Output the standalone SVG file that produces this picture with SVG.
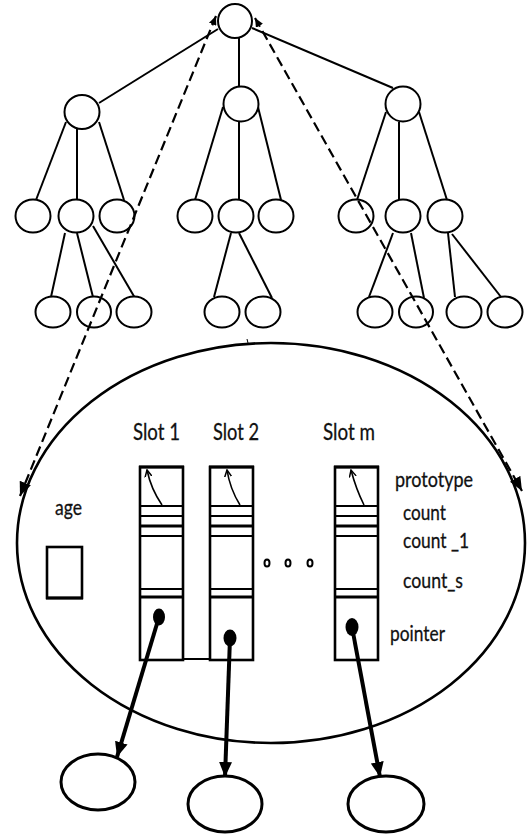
<svg xmlns="http://www.w3.org/2000/svg" width="529" height="834" viewBox="0 0 529 834">
  <style>
    .node { fill: #fff; stroke: #000; stroke-width: 2; }
    .edge { stroke: #000; stroke-width: 2; fill: none; }
    .dash { stroke: #000; stroke-width: 2.2; fill: none; stroke-dasharray: 10 5; }
    .slot { fill: none; stroke: #000; stroke-width: 2.6; }
    .rule { stroke: #000; stroke-width: 2; }
    .rule-b { stroke: #000; stroke-width: 3; }
    .proto { stroke: #000; stroke-width: 1.6; fill: none; }
    .ptr { stroke: #000; stroke-width: 4; fill: none; }
    .dot { fill: #000; }
    .lbl { font-family: Lato, "Liberation Sans", sans-serif; font-size: 22px; fill: #111; stroke: #111; stroke-width: 0.3; }
    .slotlbl { font-family: Lato, "Liberation Sans", sans-serif; font-size: 24px; fill: #111; stroke: #111; stroke-width: 0.3; }
    .target { fill: #fff; stroke: #000; stroke-width: 3; }
  </style>
  <defs>
    <marker id="dashTail" markerUnits="userSpaceOnUse" markerWidth="10" markerHeight="8" refX="9" refY="4" orient="auto-start-reverse">
      <path d="M0,0 L9,4 L0,8 Z" fill="#000"/>
    </marker>
    <marker id="dashHead" markerUnits="userSpaceOnUse" markerWidth="15" markerHeight="12" refX="14" refY="6" orient="auto">
      <path d="M0,0 L14,6 L0,12 Z" fill="#000"/>
    </marker>
    <marker id="ptrHead" markerUnits="userSpaceOnUse" markerWidth="16" markerHeight="13" refX="15" refY="6.5" orient="auto">
      <path d="M0,0 L15,6.5 L0,13 Z" fill="#000"/>
    </marker>
    <marker id="vHead" markerUnits="userSpaceOnUse" markerWidth="8" markerHeight="8" refX="7" refY="4" orient="auto">
      <path d="M0,0.5 L7,4 L0,7.5" fill="none" stroke="#000" stroke-width="1.5"/>
    </marker>
  </defs>

  <!-- tree edges -->
  <g id="tree-edges">
    <line class="edge" x1="218" y1="29" x2="99" y2="103"/>
    <line class="edge" x1="239" y1="38" x2="239" y2="87"/>
    <line class="edge" x1="252" y1="28" x2="393" y2="88"/>

    <line class="edge" x1="66" y1="122" x2="36" y2="200"/>
    <line class="edge" x1="77" y1="129" x2="77" y2="200"/>
    <line class="edge" x1="99" y1="122" x2="124" y2="200"/>

    <line class="edge" x1="223" y1="107" x2="195" y2="200"/>
    <line class="edge" x1="239" y1="122" x2="239" y2="200"/>
    <line class="edge" x1="258" y1="107" x2="281" y2="200"/>

    <line class="edge" x1="386" y1="112" x2="357" y2="200"/>
    <line class="edge" x1="399" y1="122" x2="399" y2="200"/>
    <line class="edge" x1="419" y1="112" x2="447" y2="200"/>

    <line class="edge" x1="65" y1="233" x2="51" y2="297"/>
    <line class="edge" x1="77" y1="233" x2="93" y2="297"/>
    <line class="edge" x1="93" y1="226" x2="135" y2="298"/>

    <line class="edge" x1="231" y1="233" x2="214" y2="297"/>
    <line class="edge" x1="239" y1="233" x2="272" y2="298"/>

    <line class="edge" x1="393" y1="233" x2="369" y2="297"/>
    <line class="edge" x1="411" y1="233" x2="424" y2="298"/>

    <line class="edge" x1="448" y1="233" x2="455" y2="297"/>
    <line class="edge" x1="452" y1="234" x2="501" y2="297"/>
  </g>

  <!-- tree nodes -->
  <g id="root"><ellipse class="node" cx="235" cy="21" rx="17" ry="17"/></g>
  <g id="n1"><ellipse class="node" cx="82" cy="112" rx="17.5" ry="17"/></g>
  <g id="n2"><ellipse class="node" cx="241" cy="104" rx="17.5" ry="17.5"/></g>
  <g id="n3"><ellipse class="node" cx="403" cy="104" rx="17.5" ry="17.5"/></g>

  <g id="n11"><ellipse class="node" cx="33" cy="216" rx="17.5" ry="16.5"/></g>
  <g id="n12"><ellipse class="node" cx="76" cy="216" rx="17.5" ry="16.5"/></g>
  <g id="n13"><ellipse class="node" cx="117" cy="216" rx="17.5" ry="16.5"/></g>
  <g id="n21"><ellipse class="node" cx="195" cy="216" rx="17.5" ry="16.5"/></g>
  <g id="n22"><ellipse class="node" cx="236" cy="216" rx="17.5" ry="16.5"/></g>
  <g id="n23"><ellipse class="node" cx="276" cy="216" rx="17.5" ry="16.5"/></g>
  <g id="n31"><ellipse class="node" cx="356" cy="216" rx="17.5" ry="16.5"/></g>
  <g id="n32"><ellipse class="node" cx="403" cy="216" rx="17.5" ry="16.5"/></g>
  <g id="n33"><ellipse class="node" cx="445" cy="216" rx="17.5" ry="16.5"/></g>

  <g id="n121"><ellipse class="node" cx="53" cy="312" rx="17.5" ry="15.5"/></g>
  <g id="n122"><ellipse class="node" cx="94" cy="312" rx="17" ry="15.5"/></g>
  <g id="n123"><ellipse class="node" cx="134" cy="312" rx="17.5" ry="15.5"/></g>
  <g id="n221"><ellipse class="node" cx="222" cy="312" rx="17.5" ry="15.5"/></g>
  <g id="n222"><ellipse class="node" cx="263" cy="312" rx="17.5" ry="15.5"/></g>
  <g id="n321"><ellipse class="node" cx="375" cy="312" rx="17.5" ry="15.5"/></g>
  <g id="n322"><ellipse class="node" cx="416" cy="312" rx="17" ry="15.5"/></g>
  <g id="n331"><ellipse class="node" cx="464" cy="312" rx="17.5" ry="15.5"/></g>
  <g id="n332"><ellipse class="node" cx="505" cy="312" rx="17.5" ry="15.5"/></g>

  <!-- storage unit -->
  <g id="unit">
    <ellipse cx="271" cy="543" rx="254" ry="200" fill="none" stroke="#000" stroke-width="2.6"/>
    <line x1="247" y1="339" x2="248" y2="343" stroke="#000" stroke-width="1"/>
  </g>

  <!-- age field -->
  <g id="age">
    <text class="lbl" x="55" y="515" textLength="27" lengthAdjust="spacingAndGlyphs">age</text>
    <rect x="47" y="547" width="35" height="51" fill="none" stroke="#000" stroke-width="2.6"/>
    <line x1="46" y1="598" x2="83" y2="598" stroke="#000" stroke-width="3"/>
  </g>

  <!-- slot 1 -->
  <g id="slot1">
    <text class="slotlbl" x="133" y="440" textLength="47" lengthAdjust="spacingAndGlyphs">Slot 1</text>
    <rect class="slot" x="140" y="467" width="43" height="193"/>
    <line class="rule-b" x1="139" y1="467" x2="184" y2="467"/>
    <line class="rule" x1="140" y1="506" x2="183" y2="506"/>
    <line class="rule" x1="140" y1="516" x2="183" y2="516"/>
    <line class="rule-b" x1="140" y1="526" x2="183" y2="526"/>
    <line class="rule" x1="140" y1="536" x2="183" y2="536"/>
    <line class="rule" x1="140" y1="589" x2="183" y2="589"/>
    <line class="rule-b" x1="140" y1="597" x2="183" y2="597"/>
    <path class="proto" d="M162,505 Q151,489 147,470" marker-end="url(#vHead)"/>
    <ellipse class="dot" cx="159" cy="617" rx="6" ry="8.5"/>
  </g>

  <!-- slot 2 -->
  <g id="slot2">
    <text class="slotlbl" x="213" y="440" textLength="46" lengthAdjust="spacingAndGlyphs">Slot 2</text>
    <rect class="slot" x="210" y="467" width="43" height="193"/>
    <line class="rule-b" x1="209" y1="467" x2="254" y2="467"/>
    <line class="rule" x1="210" y1="506" x2="253" y2="506"/>
    <line class="rule" x1="210" y1="516" x2="253" y2="516"/>
    <line class="rule-b" x1="210" y1="526" x2="253" y2="526"/>
    <line class="rule" x1="210" y1="536" x2="253" y2="536"/>
    <line class="rule" x1="210" y1="589" x2="253" y2="589"/>
    <line class="rule-b" x1="210" y1="597" x2="253" y2="597"/>
    <path class="proto" d="M240,505 Q230,489 227,470" marker-end="url(#vHead)"/>
    <ellipse class="dot" cx="230" cy="638" rx="6.5" ry="8.5"/>
  </g>

  <!-- link along the base of slots 1 and 2 -->
  <line x1="183" y1="659" x2="210" y2="659" stroke="#000" stroke-width="2"/>

  <!-- ellipsis between slots -->
  <g id="more">
    <ellipse cx="267" cy="563" rx="2.5" ry="3.5" fill="none" stroke="#000" stroke-width="2"/>
    <ellipse cx="288" cy="563" rx="2.5" ry="3.5" fill="none" stroke="#000" stroke-width="2"/>
    <ellipse cx="310" cy="563" rx="2.5" ry="3.5" fill="none" stroke="#000" stroke-width="2"/>
  </g>

  <!-- slot m -->
  <g id="slotm">
    <text class="slotlbl" x="323" y="440" textLength="52" lengthAdjust="spacingAndGlyphs">Slot m</text>
    <rect class="slot" x="335" y="467" width="43" height="193"/>
    <line class="rule-b" x1="334" y1="467" x2="379" y2="467"/>
    <line class="rule" x1="335" y1="506" x2="378" y2="506"/>
    <line class="rule" x1="335" y1="516" x2="378" y2="516"/>
    <line class="rule-b" x1="335" y1="526" x2="378" y2="526"/>
    <line class="rule" x1="335" y1="536" x2="378" y2="536"/>
    <line class="rule" x1="335" y1="589" x2="378" y2="589"/>
    <line class="rule-b" x1="335" y1="597" x2="378" y2="597"/>
    <path class="proto" d="M364,505 Q356,489 351,470" marker-end="url(#vHead)"/>
    <ellipse class="dot" cx="352" cy="627" rx="6.5" ry="9"/>
  </g>

  <!-- field names -->
  <g id="fields">
    <text class="lbl" x="395" y="487" textLength="78" lengthAdjust="spacingAndGlyphs">prototype</text>
    <text class="lbl" x="403" y="520" textLength="43" lengthAdjust="spacingAndGlyphs">count</text>
    <text class="lbl" x="403" y="548" textLength="66" lengthAdjust="spacingAndGlyphs">count _1</text>
    <text class="lbl" x="403" y="588" textLength="60" lengthAdjust="spacingAndGlyphs">count_s</text>
    <text class="lbl" x="390" y="641" textLength="55" lengthAdjust="spacingAndGlyphs">pointer</text>
  </g>

  <!-- targets of the slot pointers -->
  <g id="t1"><ellipse class="target" cx="98" cy="782" rx="37" ry="28"/></g>
  <g id="t2"><ellipse class="target" cx="225" cy="804" rx="37" ry="28"/></g>
  <g id="t3"><ellipse class="target" cx="386" cy="804" rx="38" ry="28"/></g>

  <!-- connectors -->
  <g id="connectors">
    <line class="dash" x1="216" y1="16" x2="20" y2="496" marker-start="url(#dashTail)" marker-end="url(#dashHead)"/>
    <line class="dash" x1="255" y1="18" x2="522" y2="491" marker-start="url(#dashTail)" marker-end="url(#dashHead)"/>
    <line class="ptr" x1="159" y1="617" x2="117" y2="757" marker-end="url(#ptrHead)"/>
    <line class="ptr" x1="230" y1="638" x2="225" y2="777" marker-end="url(#ptrHead)"/>
    <line class="ptr" x1="352" y1="627" x2="380" y2="777" marker-end="url(#ptrHead)"/>
  </g>
</svg>
